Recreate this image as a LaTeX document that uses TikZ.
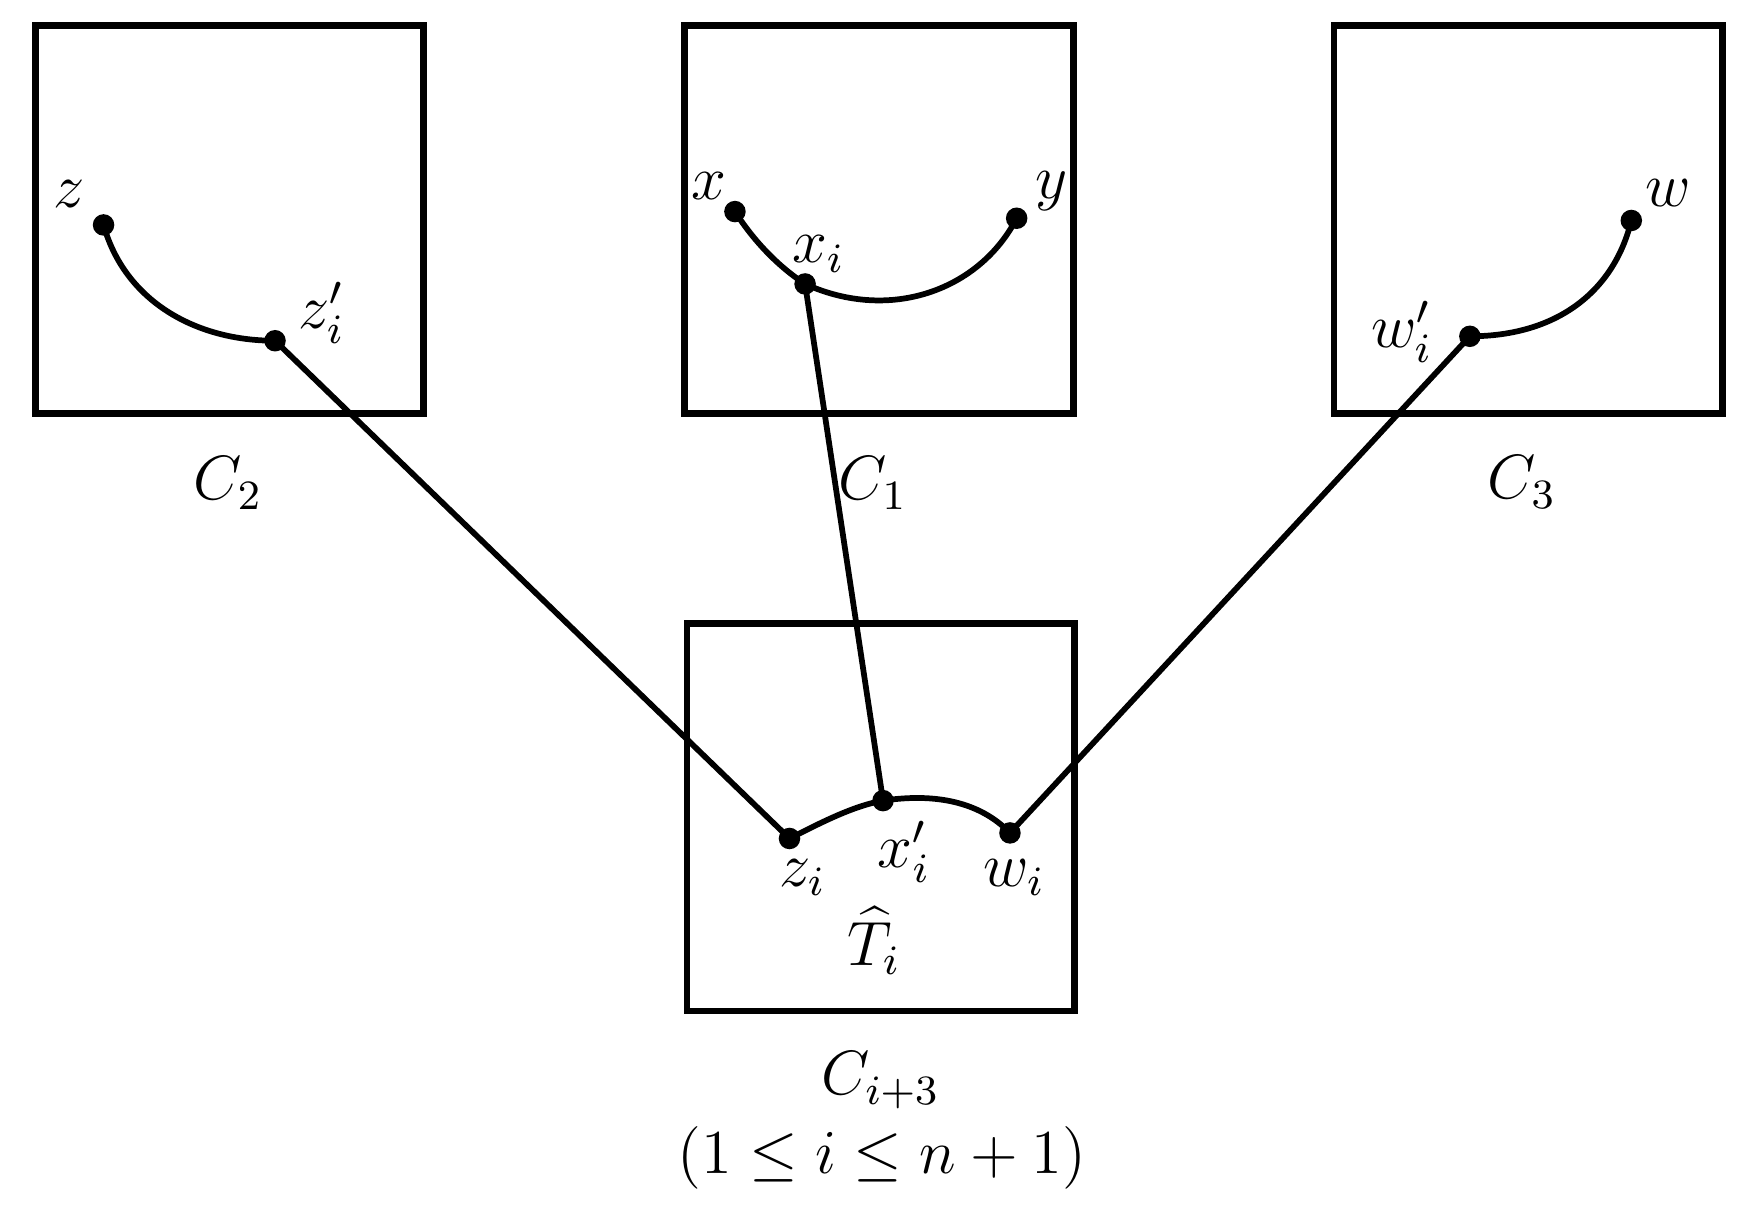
\documentclass[tikz,border=0pt]{standalone}
\usetikzlibrary{calc}
\begin{document}
\begin{tikzpicture}[x=0.0075cm,y=-0.0075cm,
  cell/.style={draw,line width=1.3pt},
  arcline/.style={line width=1.1pt},
  link/.style={line width=1.1pt},
  dot/.style={circle,fill=black,inner sep=0pt,minimum size=0.145cm},
  lab/.style={inner sep=0pt,font=\large}]
\useasboundingbox (0,0) rectangle (1568,1088);
% boxes
\draw[cell] (32,23) rectangle (380,371);
\draw[cell] (615,23) rectangle (964,371);
\draw[cell] (1198,23) rectangle (1547,371);
\draw[cell] (617,560) rectangle (965,908);
% points
\node[dot] (z) at (93,202) {};
\node[dot] (zp) at (247,306) {};
\node[dot] (x) at (660,190) {};
\node[dot] (y) at (913,196) {};
\node[dot] (xi) at (723,255) {};
\node[dot] (w) at (1465,198) {};
\node[dot] (wp) at (1320,302) {};
\node[dot] (zi) at (709,753) {};
\node[dot] (xp) at (793,719) {};
\node[dot] (wi) at (907,748) {};
% curves
\draw[arcline] (z.center) .. controls (112,270) and (175,306) .. (zp.center);
\draw[arcline] (x.center) .. controls (678,218) and (700,240) .. (xi.center)
  .. controls (800,290) and (880,260) .. (y.center);
\draw[arcline] (wp.center) .. controls (1400,302) and (1450,260) .. (w.center);
\draw[arcline] (zi.center) .. controls (735,740) and (765,724) .. (xp.center)
  .. controls (840,712) and (880,720) .. (wi.center);
% links
\draw[link] (zp.center) -- (zi.center);
\draw[link] (xi.center) -- (xp.center);
\draw[link] (wp.center) -- (wi.center);
% labels
\node[lab] (lz) at (62,174) {$z$};
\node[lab] (lzp) at (289,281) {$z_i'$};
\node[lab] (lx) at (637,167) {$x$};
\node[lab] (ly) at (944,172) {$y$};
\node[lab] (lxi) at (735,228) {$x_i$};
\node[lab] (lw) at (1498,173) {$w$};
\node[lab] (lwp) at (1259,298) {$w_i'$};
\node[lab] (lzi) at (721,788) {$z_i$};
\node[lab] (lxp) at (812,765) {$x_i'$};
\node[lab] (lwi) at (911,788) {$w_i$};
\node[lab] (lT) at (785,845) {$\widehat{T}_i$};
\node[lab] (lC2) at (205,434) {$C_2$};
\node[lab] (lC1) at (784,434) {$C_1$};
\node[lab] (lC3) at (1367,433) {$C_3$};
\node[lab] (lC4) at (791,970) {$C_{i+3}$};
\node[lab] (lrange) at (792,1040) {$(1\leq i\leq n+1)$};
\end{tikzpicture}
\end{document}
